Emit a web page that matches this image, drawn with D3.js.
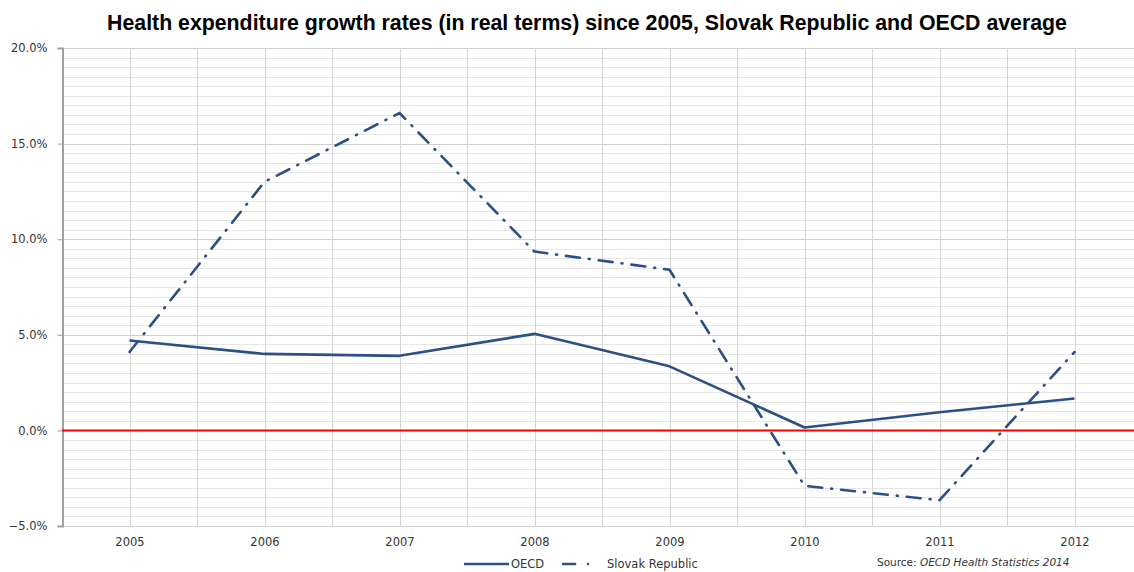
<!DOCTYPE html>
<html>
<head>
<meta charset="utf-8">
<script src="https://cdn.jsdelivr.net/npm/d3@7"></script>
<style>
  body { margin: 0; background: #fff; }
  svg { display: block; }
</style>
</head>
<body>
<svg id="chart" width="1134" height="572"></svg>
<script>
// Annual health expenditure growth in real terms
const years = [2005, 2006, 2007, 2008, 2009, 2010, 2011, 2012];
const oecd = [4.7, 4.0, 3.9, 5.05, 3.35, 0.15, 0.95, 1.67];
const slovak = [4.1, 13.0, 16.6, 9.35, 8.4, -2.9, -3.65, 4.1];
const yTicks = [-5, 0, 5, 10, 15, 20];

const svg = d3.select("#chart");
const margin = { left: 62, top: 48 };
const plotBottom = 526;
const step = 135;
const plotRight = margin.left + step * years.length;

const x = d3.scalePoint()
  .domain(years)
  .range([margin.left + step / 2, plotRight - step / 2]);

const y = d3.scaleLinear().domain([-5, 20]).range([plotBottom, margin.top]);

const font = "'DejaVu Sans', Verdana, sans-serif";

// Title
svg.append("text")
  .attr("x", 587).attr("y", 30)
  .attr("text-anchor", "middle")
  .style("font-family", "'Liberation Sans', Arial, sans-serif")
  .style("font-weight", "bold")
  .style("font-size", "21.3px")
  .attr("fill", "#000")
  .text("Health expenditure growth rates (in real terms) since 2005, Slovak Republic and OECD average");

const grid = svg.append("g");

// Minor horizontal gridlines every 0.5%
grid.selectAll("line.minor")
  .data(d3.range(-5, 20.01, 0.5).filter(v => Math.abs(v % 5) > 0.01))
  .join("line")
  .attr("x1", margin.left).attr("x2", plotRight)
  .attr("y1", d => Math.round(y(d)) + 0.5).attr("y2", d => Math.round(y(d)) + 0.5)
  .attr("stroke", "#e6e6e6").attr("stroke-width", 1);

// Major horizontal gridlines
grid.selectAll("line.major")
  .data(yTicks)
  .join("line")
  .attr("x1", margin.left).attr("x2", plotRight)
  .attr("y1", d => Math.round(y(d)) + 0.5).attr("y2", d => Math.round(y(d)) + 0.5)
  .attr("stroke", "#cfcfcf").attr("stroke-width", 1);

// Vertical gridlines at categories and between categories
const vLines = [];
years.forEach(yr => { vLines.push(x(yr)); vLines.push(x(yr) + step / 2); });
grid.selectAll("line.v")
  .data(vLines)
  .join("line")
  .attr("x1", d => Math.round(d) + 0.5).attr("x2", d => Math.round(d) + 0.5)
  .attr("y1", margin.top).attr("y2", plotBottom + 1)
  .attr("stroke", "#d6d6d6").attr("stroke-width", 1);

// Y axis
const yAxis = d3.axisLeft(y)
  .tickValues(yTicks)
  .tickSize(5)
  .tickPadding(10)
  .tickFormat(d => d3.format(".1f")(d) + "%");

const yG = svg.append("g")
  .attr("transform", `translate(${margin.left + 0.5},0)`)
  .call(yAxis);
yG.select(".domain").attr("stroke", "#a0a0a0").attr("stroke-width", 2);
yG.selectAll(".tick line").attr("stroke", "#a0a0a0");
yG.selectAll(".tick text")
  .style("font-family", font).style("font-size", "11.5px").attr("fill", "#333");

// X axis labels
const xAxis = d3.axisBottom(x).tickSize(0).tickPadding(12);
const xG = svg.append("g")
  .attr("transform", `translate(0,${plotBottom})`)
  .call(xAxis);
xG.select(".domain").remove();
xG.selectAll(".tick text")
  .style("font-family", font).style("font-size", "11.5px").attr("fill", "#333");

// Zero line
svg.append("line")
  .attr("x1", margin.left).attr("x2", plotRight)
  .attr("y1", y(0)).attr("y2", y(0))
  .attr("stroke", "#ff0000").attr("stroke-width", 2);

const lineColor = "#2c4f86";
const line = d3.line().x((d, i) => x(years[i])).y(d => y(d));

svg.append("path")
  .datum(oecd)
  .attr("d", line)
  .attr("fill", "none")
  .attr("stroke", lineColor)
  .attr("stroke-width", 2.6)
  .attr("stroke-linejoin", "round");

svg.append("path")
  .datum(slovak)
  .attr("d", line)
  .attr("fill", "none")
  .attr("stroke", lineColor)
  .attr("stroke-width", 2.6)
  .attr("stroke-linecap", "round")
  .attr("stroke-dasharray", "14 9 1 9");

// Legend
const lg = svg.append("g").attr("transform", "translate(0,564)");
lg.append("line")
  .attr("x1", 464).attr("x2", 509).attr("y1", 0).attr("y2", 0)
  .attr("stroke", lineColor).attr("stroke-width", 2.6);
lg.append("text")
  .attr("x", 511).attr("y", 4)
  .style("font-family", font).style("font-size", "11.5px").attr("fill", "#333")
  .text("OECD");
lg.append("line")
  .attr("x1", 563).attr("x2", 575).attr("y1", 0).attr("y2", 0)
  .attr("stroke", lineColor).attr("stroke-width", 2.6).attr("stroke-linecap", "round");
lg.append("circle")
  .attr("cx", 588).attr("cy", 0).attr("r", 1.2).attr("fill", lineColor);
lg.append("text")
  .attr("x", 607).attr("y", 4)
  .style("font-family", font).style("font-size", "11.5px").attr("fill", "#333")
  .text("Slovak Republic");

// Source note
const src = svg.append("text")
  .attr("x", 877).attr("y", 566)
  .style("font-family", font).style("font-size", "10.5px").attr("fill", "#333");
src.append("tspan").text("Source: ");
src.append("tspan").style("font-style", "italic").text("OECD Health Statistics 2014");
</script>
</body>
</html>
